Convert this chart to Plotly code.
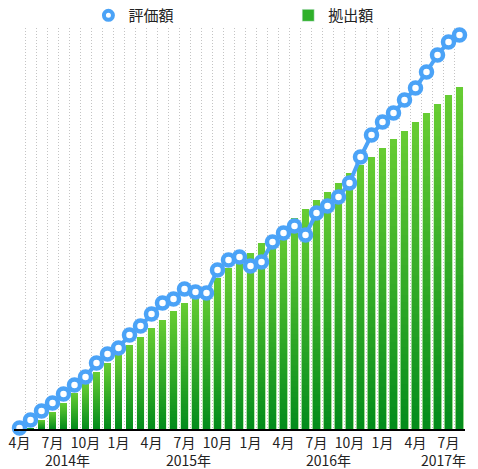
import numpy as np
import pandas as pd
import plotly.graph_objects as go

# monthly points, 2014-04 .. 2017-08
months = pd.date_range("2014-04-01", periods=41, freq="MS")

# 評価額 (valuation)
valuation = [1, 9, 18, 26, 35, 44, 52, 66, 75, 81,
             94, 103, 115, 126, 130, 140, 137, 136, 159, 169,
             172, 163, 167, 187, 196, 203, 194, 216, 223, 232,
             246, 272, 294, 307, 316, 329, 341, 357, 374, 387,
             394]

# 拠出額 (cumulative contribution)
contribution = [0, 1, 9, 17, 26, 36, 45, 57, 66, 74,
                84, 92, 101, 109, 118, 126, 134, 142, 151, 161,
                169, 176, 186, 193, 201, 211, 220, 229, 237, 246,
                256, 264, 272, 281, 290, 298, 307, 316, 325, 334,
                342]

year_labels = ["2014年", "2015年", "2016年", "2017年"]

x = list(range(len(months)))
tick_idx = [i for i, m in enumerate(months) if m.month in (1, 4, 7, 10)]
tick_text = [f"{months[i].month}月" for i in tick_idx]

blue = "#4ba3f7"
top_rgb = np.array([0x66, 0xcc, 0x33])
bottom_rgb = np.array([0x05, 0x8c, 0x1c])

fig = go.Figure()

# fake a vertical gradient in each bar by overlaying shorter, darker bars
n_layers = 40
contrib = np.array(contribution, dtype=float)
for k in range(n_layers):
    frac = 1 - k / n_layers
    t = k / (n_layers - 1)
    c = (top_rgb * (1 - t) + bottom_rgb * t).round().astype(int)
    fig.add_trace(go.Bar(
        x=x, y=contrib * frac,
        marker=dict(color=f"rgb({c[0]},{c[1]},{c[2]})", line=dict(width=0)),
        showlegend=False, hoverinfo="skip",
    ))

fig.add_trace(go.Scatter(
    x=x, y=valuation, mode="lines+markers",
    line=dict(color=blue, width=4),
    marker=dict(size=11, color="white", line=dict(color=blue, width=4.5)),
    cliponaxis=False, showlegend=False,
))

# legend entries (two separate legends so they can sit far apart)
fig.add_trace(go.Scatter(
    x=[None], y=[None], mode="markers", name="評価額", legend="legend",
    marker=dict(size=9, color="white", line=dict(color=blue, width=4)),
))
fig.add_trace(go.Bar(
    x=[None], y=[None], name="拠出額", legend="legend2",
    marker=dict(color="#2fb02a"),
))

for xi, label in zip([4.4, 15.4, 28.1, 38.5], year_labels):
    fig.add_annotation(x=xi, y=0, xref="x", yref="y", text=label,
                       showarrow=False, yanchor="top", yshift=-19,
                       font=dict(size=14, color="#222"))

legend_style = dict(orientation="h", yanchor="middle", y=1.031,
                    xanchor="left", font=dict(size=15),
                    bgcolor="rgba(0,0,0,0)", borderwidth=0)

# page body has an 8px margin, so the figure is sized/offset to compensate
fig.update_layout(
    width=470, height=461,
    margin=dict(l=6, r=13, t=20, b=40, autoexpand=False),
    barmode="overlay", bargap=0.36,
    plot_bgcolor="white", paper_bgcolor="white",
    font=dict(family="Noto Sans CJK JP", size=14, color="#222"),
    legend=dict(x=0.165, **legend_style),
    legend2=dict(x=0.608, **legend_style),
    xaxis=dict(range=[-0.5, 40.5], tickvals=tick_idx, ticktext=tick_text,
               showgrid=False, showline=True, linecolor="black", linewidth=2,
               ticks="", zeroline=False,
               minor=dict(tick0=0.5, dtick=1, showgrid=True, gridcolor="#c4c4c4",
                          griddash="1px,2px", gridwidth=1)),
    yaxis=dict(range=[0, 401], showgrid=False, showticklabels=False,
               zeroline=False, showline=False),
)

fig.write_html("out.html")
